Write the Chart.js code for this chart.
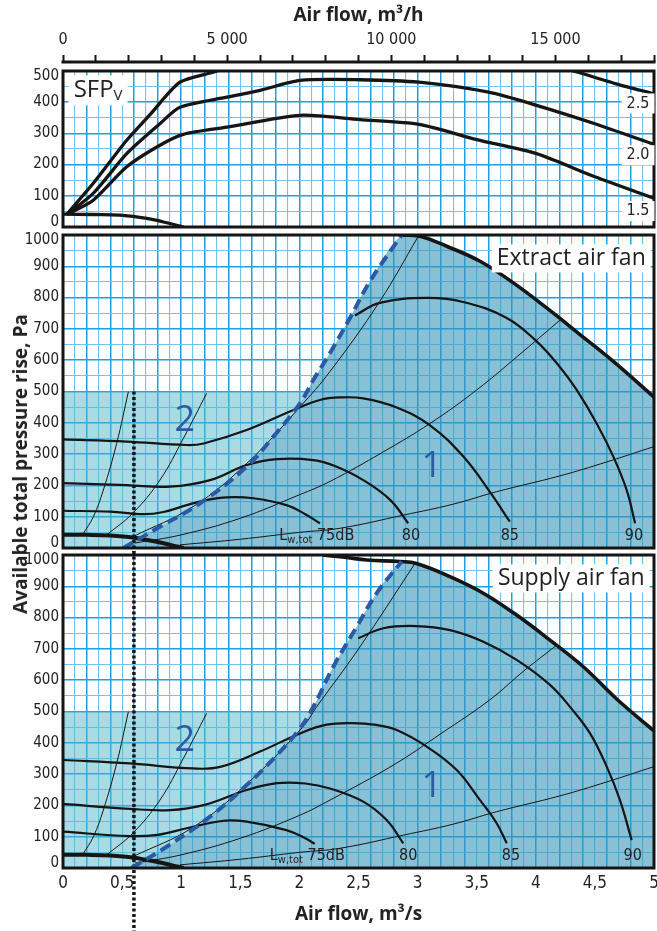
<!DOCTYPE html>
<html>
<head>
<meta charset="utf-8">
<script src="https://cdn.jsdelivr.net/npm/chart.js@4.4.1/dist/chart.umd.min.js"></script>
<style>
  body { margin: 0; background: #fff; }
  #wrap { position: relative; width: 657px; height: 931px; overflow: hidden; }
  .panel { position: absolute; left: 0; width: 657px; }
  #ytitle {
    position: absolute; left: 20px; top: 464px;
    transform: translate(-50%, -50%) rotate(-90deg);
    white-space: nowrap; font: bold 19px 'Open Sans', sans-serif; color: #222;
  }
</style>
</head>
<body>
<div id="wrap">
  <div class="panel" style="top:0;height:236px"><canvas id="sfp"></canvas></div>
  <div class="panel" style="top:222px;height:334px"><canvas id="extract"></canvas></div>
  <div class="panel" style="top:546px;height:385px"><canvas id="supply"></canvas></div>
  <div id="ytitle">Available total pressure rise, Pa</div>
</div>
<script>
// air flow in m3/s, pressure in Pa

// axis labels
const flowLabelStep = 0.5;
const flowLabels = ['0', '0,5', '1', '1,5', '2', '2,5', '3', '3,5', '4', '4,5', '5'];
const hourLabelStep = 5000;
const hourLabels = ['0', '5 000', '10 000', '15 000'];
const sfpPressureTicks = [0, 100, 200, 300, 400, 500];
const fanPressureTicks = [0, 100, 200, 300, 400, 500, 600, 700, 800, 900, 1000];
const sfpLevels = ['2.5', '2.0', '1.5'];
const soundLevels = [75, 80, 85, 90];

// top panel: SFPv curves
const sfp25 = [[0.03, 40], [0.256, 140], [0.539, 278], [0.736, 360], [0.99, 464], [1.27, 496], [1.32, 503], [2.8, null], [4.3, 503], [4.68, 459], [5, 427]];
const sfp20 = [[0.03, 40], [0.256, 108], [0.539, 235], [0.82, 331], [0.99, 384], [1.385, 416], [1.667, 438], [2.005, 470], [2.513, 472], [3.013, 464], [3.6, 432], [4.006, 390], [4.5, 331], [5, 265]];
const sfp15 = [[0.03, 40], [0.256, 86], [0.539, 193], [0.82, 262], [1.018, 297], [1.385, 320], [2.005, 358], [2.513, 344], [3.013, 329], [3.5, 280], [4.006, 235], [4.5, 161], [5, 92]];
const sfpBase = [[0, 41], [0.25, 40], [0.48, 38], [0.708, 28], [0.85, 16], [1.0, 2], [1.02, 0]];

// shared by both fans
const minCurve = [[0, 42], [0.2, 42], [0.4, 40], [0.6, 33], [0.8, 19], [0.95, 6], [1.02, 0]];
const system1 = [[0.17, 45], [0.257, 100], [0.341, 185], [0.454, 334], [0.553, 499]];
const system2 = [[0.37, 42], [0.59, 111], [0.82, 217], [1.018, 350], [1.215, 494]];
const system5 = [[0.99, 10], [1.5, 28], [2.0, 50], [2.343, 63], [2.88, 105], [3.3, 140], [3.67, 180], [4.2, 230], [4.6, 275], [5, 324]];
const zone2Top = 500;
const guideFlow = 0.6;

// extract air fan
const extSystem3 = [[0.59, 36], [1.1, 132], [1.554, 270], [2.005, 451], [2.259, 564], [2.68, 788], [3.006, 996]];
const extSystem4 = [[0.61, 16], [1.0, 42], [1.5, 95], [2.0, 170], [2.26, 213], [2.7, 305], [3.105, 398], [3.5, 505], [3.9, 630], [4.22, 733]];
const ext75 = [[0, 119], [0.4, 116], [0.68, 108], [0.85, 115], [1.046, 137], [1.2, 152], [1.385, 162], [1.61, 159], [1.89, 137], [2.05, 108], [2.174, 79]];
const ext80 = [[0, 207], [0.54, 201], [0.905, 196], [1.244, 217], [1.554, 265], [1.81, 284], [2.118, 281], [2.3, 262], [2.54, 217], [2.77, 153], [2.92, 79]];
const ext85 = [[0, 347], [0.54, 340], [1.046, 329], [1.19, 334], [1.554, 377], [1.95, 441], [2.174, 473], [2.343, 481], [2.54, 478], [2.823, 449], [3.105, 392], [3.387, 292], [3.61, 180], [3.78, 84]];
const ext90 = [[2.47, 743], [2.68, 783], [3.077, 799], [3.387, 786], [3.754, 735], [4.007, 660], [4.2, 580], [4.346, 505], [4.515, 398], [4.656, 292], [4.769, 185], [4.84, 79]];
const extDashed = [[0.51, 0], [0.82, 68], [1.16, 143], [1.554, 260], [1.78, 356], [2.005, 462], [2.118, 537], [2.259, 623], [2.428, 735], [2.597, 852], [2.865, 1000]];
const extMax = [[2.865, 1000], [3.02, 996], [3.246, 964], [3.528, 916], [3.81, 847], [4.092, 767], [4.374, 682], [4.656, 596], [5, 482]];

// supply air fan
const supSystem3 = [[0.59, 36], [1.1, 130], [1.554, 268], [2.03, 451], [2.146, 515], [2.5, 700], [2.978, 973]];
const supSystem4 = [[0.61, 16], [1.0, 42], [1.5, 95], [2.0, 168], [2.259, 217], [2.8, 330], [3.2, 430], [3.61, 537], [3.9, 630], [4.177, 712]];
const sup75 = [[0, 116], [0.565, 102], [0.8, 106], [1.046, 127], [1.36, 151], [1.554, 148], [1.89, 121], [2.05, 95], [2.13, 77]];
const sup80 = [[0, 205], [0.565, 189], [0.905, 185], [1.19, 201], [1.554, 249], [1.81, 271], [2.05, 270], [2.259, 254], [2.54, 212], [2.738, 153], [2.879, 79]];
const sup85 = [[0, 345], [0.565, 334], [1.1, 318], [1.33, 323], [1.667, 372], [2.005, 430], [2.23, 458], [2.45, 463], [2.65, 457], [2.823, 441], [3.077, 388], [3.331, 313], [3.528, 217], [3.669, 143], [3.754, 79]];
const sup90 = [[2.498, 734], [2.71, 766], [2.99, 773], [3.274, 760], [3.556, 723], [3.838, 665], [4.12, 585], [4.3, 510], [4.459, 430], [4.6, 324], [4.712, 217], [4.811, 89]];
const supDashed = [[0.58, 0], [0.877, 68], [1.244, 164], [1.554, 265], [1.81, 361], [2.005, 446], [2.118, 515], [2.287, 643], [2.485, 771], [2.654, 878], [2.865, 979]];
const supMax = [[2.2, 1000], [2.4, 992], [2.57, 984], [2.85, 979], [2.99, 973], [3.274, 931], [3.556, 878], [3.838, 808], [4.12, 728], [4.402, 643], [4.684, 540], [5, 438]];

const ink = '#151515';
const zoneBlue = '#2c5aa6';
const gridStrong = '#1e9fe3';
const gridSoft = '#72c4ee';
const zone2Colour = 'rgba(83, 183, 203, 0.5)';
const zone1Colour = 'rgba(57, 150, 187, 0.6)';
const narrow = "'Liberation Sans Narrow', 'DejaVu Sans Condensed', 'Arial Narrow', sans-serif";
const sans = "'Open Sans', 'Noto Sans', sans-serif";

const pts = arr => arr.map(([x, y]) => ({ x, y }));

function line(arr, width, extra) {
    return Object.assign({
        data: pts(arr),
        borderColor: ink,
        borderWidth: width,
        pointRadius: 0,
        fill: false,
        tension: 0.4,
        order: 1
    }, extra || {});
}

// frame round the plot area (and the detached top axis line)
const frame = {
    id: 'frame',
    afterDatasetsDraw(chart, args, opts) {
        const { ctx, chartArea: a } = chart;
        ctx.save();
        ctx.strokeStyle = ink;
        ctx.lineWidth = 3;
        ctx.strokeRect(a.left, a.top, a.right - a.left, a.bottom - a.top);
        if (opts.axisGap) {
            ctx.beginPath();
            ctx.moveTo(a.left - 1.5, a.top - opts.axisGap);
            ctx.lineTo(a.right + 1.5, a.top - opts.axisGap);
            ctx.stroke();
        }
        ctx.restore();
    }
};

// text placed in data coordinates
const panelText = {
    id: 'panelText',
    afterDraw(chart, args, opts) {
        const { ctx } = chart;
        const xs = chart.scales.x, ys = chart.scales.y;
        (opts.items || []).forEach(item => {
            ctx.save();
            const parts = item.parts.map(([text, size, dy]) => ({
                text, dy: dy || 0, font: `${size}px ${item.family || sans}`
            }));
            let width = 0;
            parts.forEach(p => { ctx.font = p.font; p.w = ctx.measureText(p.text).width; width += p.w; });
            let px = xs.getPixelForValue(item.at[0]);
            const py = ys.getPixelForValue(item.at[1]);
            if (item.align !== 'left') px -= width / 2;
            if (item.box) {
                ctx.fillStyle = '#fff';
                ctx.fillRect(px - 5, py - item.box / 2, width + 10, item.box);
            }
            ctx.fillStyle = item.color || '#222';
            ctx.textBaseline = 'middle';
            ctx.textAlign = 'left';
            parts.forEach(p => { ctx.font = p.font; ctx.fillText(p.text, px, py + p.dy); px += p.w; });
            ctx.restore();
        });
    }
};

const isMultiple = (v, step) => Math.abs(v / step - Math.round(v / step)) < 1e-6;

function flowScale(showLabels) {
    return {
        type: 'linear', min: 0, max: 5,
        afterFit: s => { s.height = showLabels ? 63 : 0; s.paddingLeft = 0; s.paddingRight = 0; },
        ticks: {
            display: showLabels, stepSize: 0.1, autoSkip: false, maxRotation: 0, padding: 5,
            font: { family: narrow, size: 17 }, color: '#222',
            callback: v => (isMultiple(v, flowLabelStep) ? flowLabels[Math.round(v / flowLabelStep)] : '')
        },
        grid: {
            drawTicks: false,
            color: c => (Math.round(c.tick.value * 10) % 2 === 0 ? gridStrong : gridSoft),
            lineWidth: c => (Math.round(c.tick.value * 10) % 2 === 0 ? 1.5 : 1.1)
        },
        border: { display: false },
        title: {
            display: showLabels, text: 'Air flow, m³/s', color: '#222',
            font: { family: sans, size: 19, weight: 'bold' }, padding: { top: 0, bottom: 5 }
        }
    };
}

// end labels are nudged inside the frame with an empty second line
function pressureScale(max, labels) {
    return {
        min: 0, max,
        afterFit: s => { s.width = 63; s.paddingTop = 0; s.paddingBottom = 0; },
        ticks: {
            stepSize: 50, autoSkip: false, padding: 4,
            font: { family: narrow, size: 15, lineHeight: 0.65 }, color: '#222',
            callback: v => {
                if (!labels.includes(v)) return '';
                if (v === max) return ['', String(v)];
                if (v === 0) return [String(v), ''];
                return String(v);
            }
        },
        grid: {
            drawTicks: false,
            color: c => (c.tick.value % 100 === 0 ? gridStrong : gridSoft),
            lineWidth: c => (c.tick.value % 100 === 0 ? 1.6 : 1.1)
        },
        border: { display: false }
    };
}

const common = {
    responsive: true,
    maintainAspectRatio: false,
    animation: false,
    events: [],
    plugins: { legend: { display: false }, tooltip: { enabled: false } }
};

// ---- top panel ----
new Chart(document.getElementById('sfp'), {
    type: 'line',
    data: {
        datasets: [
            line(sfp25, 3.3, { tension: 0.25 }),
            line(sfp20, 3.3, { tension: 0.25 }),
            line(sfp15, 3.3, { tension: 0.25 }),
            line(sfpBase, 3.3)
        ]
    },
    options: Object.assign({}, common, {
        layout: { padding: { left: 0, right: 3, top: 0, bottom: 9 } },
        scales: {
            x: flowScale(false),
            x2: {
                type: 'linear', position: 'top', min: 0, max: 18000,
                afterFit: s => { s.height = 71; s.paddingLeft = 0; s.paddingRight = 0; },
                ticks: {
                    stepSize: 1000, autoSkip: false, maxRotation: 0, padding: 6,
                    font: { family: narrow, size: 16 }, color: '#222',
                    callback: v => (isMultiple(v, hourLabelStep) ? hourLabels[Math.round(v / hourLabelStep)] : '')
                },
                grid: { drawOnChartArea: false, tickLength: 16, tickBorderDash: [7, 9], tickColor: ink, tickWidth: 2 },
                border: { display: false },
                title: {
                    display: true, text: 'Air flow, m³/h', color: '#222',
                    font: { family: sans, size: 19, weight: 'bold' }, padding: { top: 4, bottom: 0 }
                }
            },
            y: pressureScale(500, sfpPressureTicks)
        },
        plugins: Object.assign({}, common.plugins, {
            frame: { axisGap: 9 },
            panelText: {
                items: [
                    { at: [0.09, 438], parts: [['SFP', 24], ['V', 15, 5]], align: 'left', box: 30 },
                    { at: [4.865, 396], parts: [[sfpLevels[0], 16]], family: narrow, box: 20 },
                    { at: [4.865, 230], parts: [[sfpLevels[1], 16]], family: narrow, box: 20 },
                    { at: [4.865, 51], parts: [[sfpLevels[2], 16]], family: narrow, box: 20 }
                ]
            }
        })
    }),
    plugins: [frame, panelText]
});

// ---- fan panels ----
function fanChart(id, curves, title, guideSpan, soundAt, showFlow, pad) {
    const dashed = curves.dashed;
    const lastDashed = dashed[dashed.length - 1][0];
    const envelope = dashed.concat(curves.max.filter(p => p[0] > lastDashed));
    const datasets = [
        // 0: lower edge of zone 2 (the dashed border)
        line([[0, 0]].concat(dashed), 1, { borderColor: 'rgba(0,0,0,0)', order: 9 }),
        // 1: zone 2, below 500 Pa and left of the dashed border
        line([[0, zone2Top], [5, zone2Top]], 1, {
            borderColor: 'rgba(0,0,0,0)', order: 8,
            fill: { target: 0, above: zone2Colour, below: 'rgba(0,0,0,0)' }
        }),
        // 2: zone 1
        line(envelope, 1, { borderColor: 'rgba(0,0,0,0)', order: 7, fill: 'origin', backgroundColor: zone1Colour }),
        line(system1, 1),
        line(system2, 1),
        line(curves.system3, 1),
        line(curves.system4, 1),
        line(system5, 1),
        line(curves.a75, 2.2),
        line(curves.a80, 2.2),
        line(curves.a85, 2.2),
        line(curves.a90, 2.2),
        line(curves.max, 3.6),
        line(minCurve, 4),
        line(dashed, 4, { borderColor: '#2a5aa6', borderDash: [11, 6], order: 0 }),
        line([[guideFlow, guideSpan[0]], [guideFlow, guideSpan[1]]], 3.5, {
            borderDash: [3, 2.5], clip: false, order: 0, tension: 0
        })
    ];
    const items = [
        { at: [4.3, 925], parts: [[title, 23]], box: 28 },
        { at: [3.12, 259], parts: [['1', 36]], color: zoneBlue },
        { at: [1.03, 408], parts: [['2', 36]], color: zoneBlue },
        { at: soundAt[0], parts: [['L', 16], ['w,tot', 11, 4], [' ' + soundLevels[0] + 'dB', 16]], family: narrow, align: 'left' }
    ];
    for (let i = 1; i < soundLevels.length; i++) {
        items.push({ at: soundAt[i], parts: [[String(soundLevels[i]), 16]], family: narrow });
    }
    new Chart(document.getElementById(id), {
        type: 'line',
        data: { datasets },
        options: Object.assign({}, common, {
            layout: { padding: pad },
            scales: { x: flowScale(showFlow), y: pressureScale(1000, fanPressureTicks) },
            plugins: Object.assign({}, common.plugins, { frame: {}, panelText: { items } })
        }),
        plugins: [frame, panelText]
    });
}

fanChart('extract', {
    dashed: extDashed, max: extMax, system3: extSystem3, system4: extSystem4,
    a75: ext75, a80: ext80, a85: ext85, a90: ext90
}, 'Extract air fan', [zone2Top, -12],
[[1.83, 38], [2.944, 40], [3.78, 40], [4.83, 40]], false,
{ left: 0, right: 3, top: 13, bottom: 8 });

fanChart('supply', {
    dashed: supDashed, max: supMax, system3: supSystem3, system4: supSystem4,
    a75: sup75, a80: sup80, a85: sup85, a90: sup90
}, 'Supply air fan', [1030, -205],
[[1.75, 38], [2.92, 40], [3.79, 40], [4.82, 40]], true,
{ left: 0, right: 3, top: 9, bottom: 0 });
</script>
</body>
</html>
